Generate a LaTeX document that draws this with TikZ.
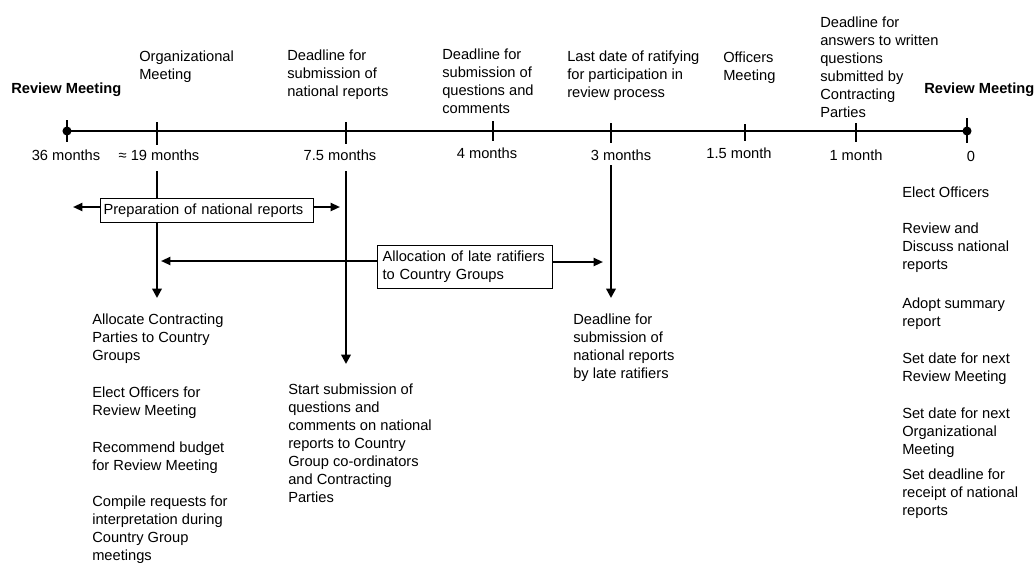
\documentclass[tikz,border=0pt]{standalone}
\usepackage{fontspec}
\setmainfont{Liberation Sans}
\usetikzlibrary{arrows.meta}
\begin{document}
\begin{tikzpicture}[x=0.75pt,y=-0.75pt,
  base/.style={font=\fontsize{11}{13.5}\selectfont},
  txt/.style={base, anchor=north west, inner sep=0pt, align=left},
  mon/.style={base, anchor=north, inner sep=0pt},
  headtxt/.style={anchor=north west, inner sep=0pt, font=\fontsize{11}{13.5}\selectfont\bfseries},
  tline/.style={line width=2.1pt},
  tickthick/.style={line width=2.2pt},
  tickthin/.style={line width=1pt},
  varrow/.style={line width=1.7pt,-{Triangle[length=7pt,width=7pt]}},
  harrow/.style={line width=1.5pt,-{Triangle[length=7pt,width=6pt]}},
  boxnode/.style={base, draw, line width=0.8pt, fill=white, align=left, anchor=north west}
]
\useasboundingbox (0,0) rectangle (1035,562);

% timeline
\coordinate (t0) at (67,131);
\coordinate (t7) at (967,131);
\draw[tline] (t0) -- (t7);
\fill (t0) circle[radius=3.4pt];
\fill (t7) circle[radius=3.4pt];
\draw[tickthin] (67,120) -- (67,142);
\draw[tickthin] (967,118) -- (967,143);
\draw[tickthick] (157,122) -- (157,145);
\draw[tickthick] (346,122) -- (346,144);
\draw[tickthin] (493,121) -- (493,141);
\draw[tickthick] (611,123) -- (611,143);
\draw[tickthin] (745,124) -- (745,141);
\draw[tickthin] (856,123) -- (856,142);

% headings
\node[headtxt] (rm1) at (11,83) {Review Meeting};
\node[headtxt] (rm2) at (924,83) {Review Meeting};

% top labels
\node[txt] (org) at (139,51) {Organizational\\Meeting};
\node[txt] (dl1) at (287,50) {Deadline for\\submission of\\national reports};
\node[txt] (dl2) at (442,49) {Deadline for\\submission of\\questions and\\comments};
\node[txt] (last) at (567,51) {Last date of ratifying\\for participation in\\review process};
\node[txt] (off) at (723,52) {Officers\\Meeting};
\node[txt] (dl3) at (820,17) {Deadline for\\answers to written\\questions\\submitted by\\Contracting\\Parties};

% month labels
\node[mon] (m36) at (66,150) {36 months};
\node[mon] (m19) at (159,150) {≈ 19 months};
\node[mon] (m75) at (340,150) {7.5 months};
\node[mon] (m4) at (487,148) {4 months};
\node[mon] (m3) at (621,150) {3 months};
\node[mon] (m15) at (739,148) {1.5 month};
\node[mon] (m1) at (856,150) {1 month};
\node[mon] (m0) at (971,151) {0};

% vertical arrows
\coordinate (a1s) at (157,171); \coordinate (a1e) at (157,298);
\coordinate (a2s) at (346,171); \coordinate (a2e) at (346,364);
\coordinate (a3s) at (611,165); \coordinate (a3e) at (611,298);
\draw[varrow] (a1s) -- (a1e);
\draw[varrow] (a2s) -- (a2e);
\draw[varrow] (a3s) -- (a3e);

% boxes
\node[boxnode, text width=155.25pt, inner xsep=2.25pt, inner ysep=0pt, minimum height=18pt] (prep) at (100,198) {Preparation of national reports};
\node[boxnode, text width=123.75pt, inner xsep=3.75pt, inner ysep=0pt, minimum height=32.25pt] (late) at (377,245) {Allocation of late ratifiers\\to Country Groups};

\coordinate (pL) at (73,207);
\coordinate (pR) at (340,207);
\coordinate (lL) at (161,261);
\coordinate (lR) at (603,262);
\draw[harrow] (prep.west |- pL) -- (pL);
\draw[harrow] (prep.east |- pR) -- (pR);
\draw[harrow] (late.west |- lL) -- (lL);
\draw[harrow] (late.east |- lR) -- (lR);

% bottom texts
\node[txt] (b1) at (92,314) {Allocate Contracting\\Parties to Country\\Groups};
\node[txt] (b2) at (92,387) {Elect Officers for\\Review Meeting};
\node[txt] (b3) at (92,442) {Recommend budget\\for Review Meeting};
\node[txt] (b4) at (92,496) {Compile requests for\\interpretation during\\Country Group\\meetings};
\node[txt] (s1) at (288,384) {Start submission of\\questions and\\comments on national\\reports to Country\\Group co-ordinators\\and Contracting\\Parties};
\node[txt] (lt) at (573,314) {Deadline for\\submission of\\national reports\\by late ratifiers};

% right column
\node[txt] (r1) at (902,187) {Elect Officers};
\node[txt] (r2) at (902,223) {Review and\\Discuss national\\reports};
\node[txt] (r3) at (902,298) {Adopt summary\\report};
\node[txt] (r4) at (902,353) {Set date for next\\Review Meeting};
\node[txt] (r5) at (902,408) {Set date for next\\Organizational\\Meeting};
\node[txt] (r6) at (902,469) {Set deadline for\\receipt of national\\reports};
\end{tikzpicture}
\end{document}
